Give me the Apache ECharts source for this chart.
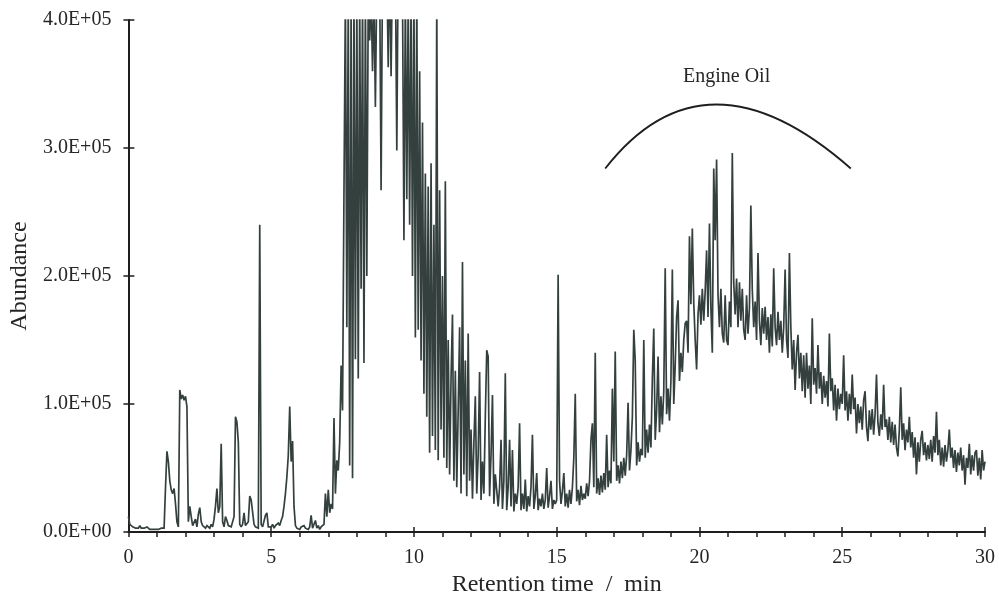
<!DOCTYPE html>
<html>
<head>
<meta charset="utf-8">
<script src="https://cdn.jsdelivr.net/npm/echarts@6/dist/echarts.min.js"></script>
<style>
  html, body { margin: 0; padding: 0; background: #ffffff; }
  #chart { width: 999px; height: 603px; }
</style>
</head>
<body>
<div id="chart"></div>
<script>
// Total ion chromatogram, abundance in thousands of counts, sampled every 0.05 min.
const SAMPLE_STEP = 0.05;

// 0 – 5 min (one row per minute)
const abundance_0_5 = [
  12,6,5,4,5,3,4,3,5,3,4,3,2,4,3,2,3,2,3,2,
  3,2,2,3,2,3,35,63,55,40,33,30,34,22,8,4,111,104,107,103,
  106,98,8,20,12,5,6,10,4,14,19,8,5,6,3,5,4,3,6,4,
  10,20,34,15,20,69,8,4,12,9,5,6,4,5,12,90,86,70,6,4,
  6,15,5,4,8,28,25,24,6,4,5,3,240,6,4,5,13,15,4,5
];

// 5 – 10 min
const abundance_5_10 = [
  4,6,3,5,4,7,5,9,12,20,30,43,60,98,55,71,20,5,3,4,
  2,4,3,5,3,4,2,4,13,3,4,9,3,5,2,4,3,6,30,12,
  33,15,22,18,89,30,56,48,70,130,95,265,420,160,420,52,420,42,420,135,
  420,120,420,190,420,132,420,200,420,384,420,360,420,332,430,440,430,267,440,450,
  450,440,363,450,356,450,460,440,298,450,440,430,420,228,420,260,420,240,420,200
];

// 10 – 15 min
const abundance_10_15 = [
  420,152,420,158,360,134,320,108,280,90,270,62,288,75,240,64,420,56,267,80,
  200,58,274,50,150,45,120,170,40,126,35,95,160,30,211,45,134,28,155,40,
  80,26,70,106,30,60,125,25,55,30,90,142,137,28,60,107,22,45,46,20,
  35,72,18,40,124,17,35,72,20,64,16,30,22,35,85,17,30,18,41,16,
  28,20,35,76,18,28,46,17,26,20,30,18,25,50,19,28,40,18,25,22
];

// 15 – 20 min
const abundance_15_20 = [
  25,201,40,22,32,46,20,30,19,33,22,35,58,108,24,33,21,36,25,30,
  26,38,28,40,72,85,35,140,30,42,29,44,31,46,33,76,35,48,38,112,
  55,141,40,52,38,55,42,58,44,60,101,48,64,90,158,134,52,70,55,65,
  60,150,58,80,62,84,66,120,159,72,95,137,78,106,84,110,206,92,112,87,
  118,205,100,130,168,181,118,140,125,150,163,165,140,231,178,237,179,150,127,170
];

// 20 – 25 min
const abundance_20_25 = [
  185,162,190,165,188,220,168,241,175,140,284,228,291,185,160,190,155,148,185,150,
  146,180,160,296,195,170,198,160,195,165,190,158,150,185,155,175,255,189,160,180,
  150,218,165,146,175,155,176,150,168,140,170,145,206,160,146,172,150,165,140,160,
  205,150,136,218,160,127,150,111,140,154,120,140,110,138,105,140,112,130,100,167,
  115,128,108,146,112,125,100,122,105,118,98,155,110,120,95,115,87,112,96,108
];

// 25 – 30 min (includes the final sample at 30.00)
const abundance_25_30 = [
  100,138,95,110,87,108,92,123,96,105,77,100,85,98,80,103,110,82,71,95,
  80,96,76,92,123,85,75,92,80,115,82,88,72,90,70,86,68,84,66,59,
  80,113,72,85,64,80,70,90,66,78,58,74,45,70,55,72,79,60,70,56,
  68,57,72,55,75,62,94,60,72,52,66,51,68,55,64,80,58,66,50,64,
  47,62,52,66,48,60,37,58,50,69,45,60,48,62,64,44,58,41,64,48,
  55
];

const segments = [
  { start: 0,  values: abundance_0_5 },
  { start: 5,  values: abundance_5_10 },
  { start: 10, values: abundance_10_15 },
  { start: 15, values: abundance_15_20 },
  { start: 20, values: abundance_20_25 },
  { start: 25, values: abundance_25_30 }
];

// Annotation: label and bracket arc (start, apex, end) in data units
const oilLabel = { text: 'Engine Oil', at: [20.95, 356] };
const oilArc = [[16.7, 284], [20.6, 334], [25.3, 284]];

const trace = [];
segments.forEach(seg => {
  seg.values.forEach((v, i) => {
    trace.push([+(seg.start + i * SAMPLE_STEP).toFixed(2), v]);
  });
});

const SERIF = "'Liberation Serif', 'Times New Roman', serif";
const INK = '#1e1e1e';
const TEXT = '#262626';

function sciLabel(v) {
  const n = v * 1000;
  if (n === 0) return '0.0E+00';
  const e = Math.floor(Math.log10(n) + 1e-9);
  const m = n / Math.pow(10, e);
  return m.toFixed(1) + 'E+' + String(e).padStart(2, '0');
}

const chart = echarts.init(document.getElementById('chart'), null, { renderer: 'canvas' });

const axisCommonX = { type: 'value', min: 0, max: 30, interval: 5 };
const axisCommonY = { type: 'value', min: 0, max: 400, interval: 100 };

chart.setOption({
  animation: false,
  backgroundColor: '#ffffff',
  grid: { left: 127, right: 14, top: 20, bottom: 71, containLabel: false },
  xAxis: [
    Object.assign({}, axisCommonX, {
      position: 'bottom',
      axisLine: { show: true, onZero: false, lineStyle: { color: INK, width: 2 } },
      axisTick: { show: true, inside: false, length: 5, lineStyle: { color: INK, width: 1.5 } },
      minorTick: { show: true, splitNumber: 5, length: 5, lineStyle: { color: INK, width: 1.5 } },
      axisLabel: { color: TEXT, fontFamily: SERIF, fontSize: 20, margin: 16 },
      splitLine: { show: false },
      name: 'Retention time  /  min',
      nameLocation: 'middle',
      nameGap: 41,
      nameTextStyle: { color: TEXT, fontFamily: SERIF, fontSize: 24 }
    }),
    Object.assign({}, axisCommonX, {
      position: 'bottom',
      axisLine: { show: false, onZero: false },
      axisTick: { show: true, inside: true, length: 5, lineStyle: { color: INK, width: 1.5 } },
      axisLabel: { show: false },
      splitLine: { show: false }
    })
  ],
  yAxis: [
    Object.assign({}, axisCommonY, {
      position: 'left',
      axisLine: { show: true, onZero: false, lineStyle: { color: INK, width: 2 } },
      axisTick: { show: true, inside: false, length: 5, lineStyle: { color: INK, width: 1.5 } },
      axisLabel: { color: TEXT, fontFamily: SERIF, fontSize: 20, margin: 17, formatter: sciLabel },
      splitLine: { show: false },
      name: 'Abundance',
      nameLocation: 'middle',
      nameGap: 95,
      nameTextStyle: { color: TEXT, fontFamily: SERIF, fontSize: 24 }
    }),
    Object.assign({}, axisCommonY, {
      position: 'left',
      axisLine: { show: false, onZero: false },
      axisTick: { show: true, inside: true, length: 6, lineStyle: { color: INK, width: 1.5 } },
      axisLabel: { show: false },
      splitLine: { show: false }
    })
  ],
  series: [{
    type: 'line',
    xAxisIndex: 0,
    yAxisIndex: 0,
    data: trace,
    showSymbol: false,
    symbol: 'none',
    clip: true,
    lineStyle: { color: '#34403e', width: 1.7, join: 'miter', miterLimit: 2 }
  }]
});

// Place the annotation using the chart's own coordinate conversion
function drawAnnotation() {
  const toPx = p => chart.convertToPixel({ gridIndex: 0 }, p);
  const p0 = toPx(oilArc[0]);
  const pa = toPx(oilArc[1]);
  const p2 = toPx(oilArc[2]);
  const cpx = 2 * pa[0] - (p0[0] + p2[0]) / 2;
  const cpy = 2 * pa[1] - (p0[1] + p2[1]) / 2;
  const lp = toPx(oilLabel.at);
  chart.setOption({
    graphic: [
      {
        type: 'bezierCurve',
        shape: { x1: p0[0], y1: p0[1], cpx1: cpx, cpy1: cpy, x2: p2[0], y2: p2[1] },
        style: { stroke: INK, lineWidth: 1.8, fill: null }
      },
      {
        type: 'text',
        x: lp[0], y: lp[1],
        style: {
          text: oilLabel.text, fill: TEXT, font: '20px ' + SERIF,
          textAlign: 'center', textVerticalAlign: 'middle'
        }
      }
    ]
  });
}
drawAnnotation();
</script>
</body>
</html>
